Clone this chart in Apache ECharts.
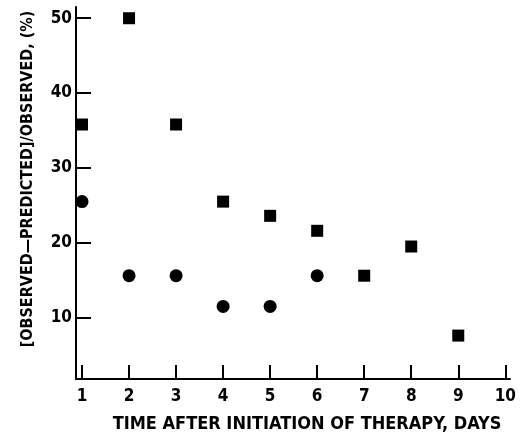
<!DOCTYPE html>
<html>
<head>
<meta charset="utf-8">
<script src="https://cdn.jsdelivr.net/npm/echarts@6/dist/echarts.min.js"></script>
<style>
  html, body { margin: 0; padding: 0; background: #fff; }
  #chart { width: 523px; height: 437px; }
</style>
</head>
<body>
<div id="chart"></div>
<script>
// 数据
var days = [1, 2, 3, 4, 5, 6, 7, 8, 9, 10];
var yTicks = [10, 20, 30, 40, 50];

var squareDays = [1, 2, 3, 4, 5, 6, 7, 8, 9];
var squareValues = [35.8, 50, 35.8, 25.5, 23.6, 21.6, 15.6, 19.5, 7.6];

var circleDays = [1, 2, 3, 4, 5, 6];
var circleValues = [25.5, 15.6, 15.6, 11.5, 11.5, 15.6];

var font = '"DejaVu Sans Condensed", "Liberation Sans Narrow", "Liberation Sans", sans-serif';

function pairs(xs, ys) {
  return xs.map(function (x, i) { return [x, ys[i]]; });
}

var chart = echarts.init(document.getElementById('chart'));
var option = {
  backgroundColor: '#fff',
  animation: false,
  grid: {
    left: 76,
    right: 13,
    top: 7,
    bottom: 58,
    outerBoundsMode: 'none' // 不让 v6 自动缩小网格
  },
  xAxis: {
    type: 'value',
    min: 0.872,
    max: 10.1,
    name: 'TIME AFTER INITIATION OF THERAPY, DAYS',
    nameLocation: 'middle',
    nameGap: 36,
    nameTextStyle: {
      color: '#000',
      fontFamily: font,
      fontWeight: 'bold',
      fontSize: 18,
      padding: [0, 0, 0, 28]
    },
    axisLine: { onZero: false, lineStyle: { color: '#000', width: 2 } },
    axisTick: {
      inside: true,
      length: 14,
      customValues: days,
      lineStyle: { color: '#000', width: 2 }
    },
    axisLabel: {
      customValues: days,
      margin: 9,
      color: '#000',
      fontFamily: font,
      fontWeight: 'bold',
      fontSize: 17
    },
    splitLine: { show: false }
  },
  yAxis: {
    type: 'value',
    min: 1.8,
    max: 51.5,
    name: '[OBSERVED—PREDICTED]/OBSERVED, (%)',
    nameLocation: 'middle',
    nameRotate: 90,
    nameGap: 40,
    nameTextStyle: {
      color: '#000',
      fontFamily: font,
      fontWeight: 'bold',
      fontSize: 16,
      padding: [0, 0, 0, 28]
    },
    axisLine: { onZero: false, lineStyle: { color: '#000', width: 2 } },
    axisTick: {
      inside: true,
      length: 15,
      customValues: yTicks,
      lineStyle: { color: '#000', width: 2 }
    },
    axisLabel: {
      customValues: yTicks,
      margin: 4,
      color: '#000',
      fontFamily: font,
      fontWeight: 'bold',
      fontSize: 17
    },
    splitLine: { show: false }
  },
  series: [
    {
      name: 'squares',
      type: 'scatter',
      symbol: 'rect',
      symbolSize: 12,
      itemStyle: { color: '#000', opacity: 1 },
      data: pairs(squareDays, squareValues)
    },
    {
      name: 'circles',
      type: 'scatter',
      symbol: 'circle',
      symbolSize: 13,
      itemStyle: { color: '#000', opacity: 1 },
      data: pairs(circleDays, circleValues)
    }
  ]
};
chart.setOption(option);
</script>
</body>
</html>
